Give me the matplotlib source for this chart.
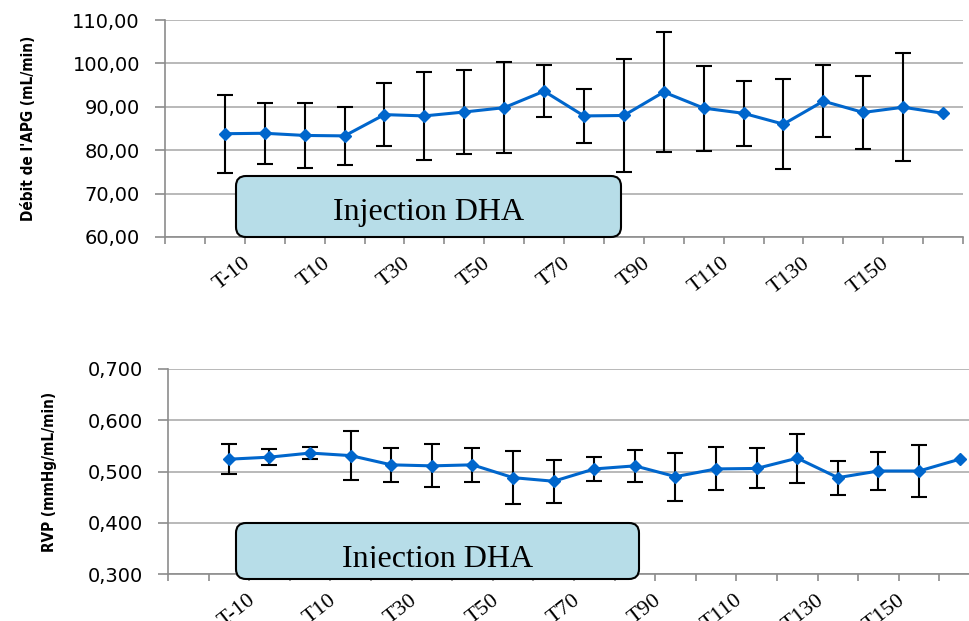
import matplotlib
matplotlib.use('Agg')
from matplotlib import pyplot as plt
from matplotlib.patches import FancyBboxPatch, Rectangle
from matplotlib.transforms import IdentityTransform
import numpy as np

times = ['T-10', 'T0', 'T10', 'T20', 'T30', 'T40', 'T50', 'T60', 'T70', 'T80',
         'T90', 'T100', 'T110', 'T120', 'T130', 'T140', 'T150', 'T160', 'T170']

# débit APG (mL/min), moyenne et écart-type
debit = [83.8, 83.9, 83.4, 83.3, 88.2, 87.9, 88.8, 89.8, 93.6, 87.9,
         88.0, 93.4, 89.7, 88.5, 86.0, 91.3, 88.7, 89.9, 88.5]
debit_sd = [9.0, 7.0, 7.5, 6.7, 7.3, 10.2, 9.6, 10.5, 6.0, 6.3,
            13.1, 13.8, 9.8, 7.5, 10.3, 8.3, 8.5, 12.5]

# RVP (mmHg/mL/min)
rvp = [0.524, 0.528, 0.536, 0.531, 0.513, 0.511, 0.513, 0.488, 0.481, 0.505,
       0.511, 0.490, 0.505, 0.506, 0.526, 0.488, 0.501, 0.501, 0.524]
rvp_sd = [0.029, 0.016, 0.012, 0.048, 0.033, 0.042, 0.033, 0.052, 0.042, 0.024,
          0.031, 0.047, 0.042, 0.039, 0.048, 0.033, 0.038, 0.050]

W, H = 970, 621
fig = plt.figure(figsize=(9.7, 6.21), dpi=100)
ax1 = fig.add_axes([165 / W, (H - 237) / H, (963 - 165) / W, 217 / H])
ax2 = fig.add_axes([168 / W, (H - 574) / H, 812 / W, 205 / H])

blue = '#0066CC'
grey = '#8C8C8C'
x = np.arange(1, len(times) + 1)
shown = list(range(0, 17, 2))


def style(ax, ylim, step, fmt, label, lx):
    ax.set_xlim(-0.5, 19.5)
    ax.set_ylim(*ylim)
    ax.set_yticks(np.arange(ylim[0], ylim[1] + step / 2, step))
    ax.yaxis.set_major_formatter(lambda v, p: fmt.format(v).replace('.', ','))
    ax.set_xticks(np.arange(-0.5, 20, 1))
    ax.set_xticklabels([])
    ax.set_xticks([x[i] + 0.45 for i in shown], minor=True)
    ax.set_xticklabels([times[i] for i in shown], minor=True, rotation=38,
                       ha='right', va='top', rotation_mode='anchor',
                       family='Liberation Serif', fontsize=16)
    ax.tick_params(axis='x', which='major', length=5, color=grey, width=1.2)
    ax.tick_params(axis='x', which='minor', length=0, pad=12)
    ax.tick_params(axis='y', length=7, color=grey, width=1.2, pad=11, labelsize=14)
    for s in ['top', 'right']:
        ax.spines[s].set_visible(False)
    for s in ['left', 'bottom']:
        ax.spines[s].set_color(grey)
        ax.spines[s].set_linewidth(1.2)
    ax.grid(axis='y', color='#A6A6A6', lw=1.1)
    ax.set_axisbelow(True)
    ax.set_ylabel(label, family='DejaVu Sans', fontstretch='condensed',
                  fontweight='bold', fontsize=11)
    ax.yaxis.set_label_coords(lx, 0.5)


style(ax1, (60, 110), 10, '{:.2f}', "Débit de l'APG (mL/min)", -0.162)
style(ax2, (0.3, 0.7), 0.1, '{:.3f}', 'RVP (mmHg/mL/min)', -0.137)

for ax, m, sd in [(ax1, debit, debit_sd), (ax2, rvp, rvp_sd)]:
    ax.errorbar(x[:len(sd)], m[:len(sd)], yerr=sd, fmt='none', ecolor='black',
                elinewidth=1.5, capsize=5.5, capthick=1.5, zorder=3)
    ax.plot(x, m, color=blue, lw=2.2, marker='D', ms=6.5, zorder=4)

# "Injection DHA" boxes (pixel coordinates, origin bottom-left)
for (x0, x1, y0, y1, base, clip) in [(236, 621, 237, 176, 220, None),
                                      (236, 639, 579, 523, 567, 568)]:
    box = FancyBboxPatch((x0, H - y0), x1 - x0, y0 - y1,
                         boxstyle='round,pad=0,rounding_size=10',
                         fc='#B7DDE8', ec='black', lw=1.5,
                         transform=IdentityTransform(), zorder=5)
    fig.add_artist(box)
    t = fig.text((x0 + x1) / 2 / W, (H - base) / H, 'Injection DHA',
                 ha='center', va='baseline', family='Liberation Serif',
                 fontsize=23, zorder=6)
    if clip:
        t.set_clip_path(Rectangle((0, H - clip), W, 200, transform=IdentityTransform()))

fig.savefig('out.png', dpi=100)
